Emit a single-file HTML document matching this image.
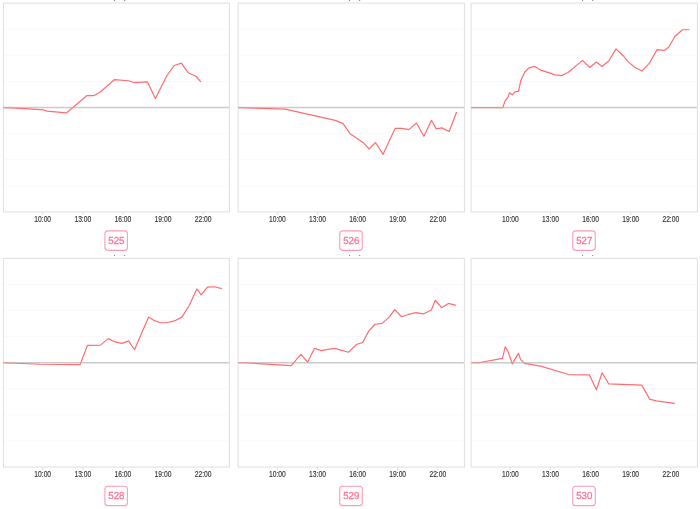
<!DOCTYPE html>
<html><head><meta charset="utf-8"><title>charts</title>
<style>
html,body{margin:0;padding:0;background:#fff;}
body{width:700px;height:509px;overflow:hidden;position:relative;}
svg{position:absolute;left:0;top:0;}
.gd{stroke:#f9f9f9;stroke-width:1;}
.zr{stroke:#cdcdcd;stroke-width:1.4;}
.zr2{stroke:#c8c8c8;stroke-width:1;stroke-opacity:0.4;}
.bd{fill:none;stroke:#dedede;stroke-width:1;}
.tk{stroke:#d6d6d6;stroke-width:1;}
.tl{font-family:"Liberation Sans",sans-serif;font-size:8.3px;fill:#333;stroke:#333;stroke-width:0.15;text-anchor:middle;}
.ln{fill:none;stroke:#ff6c72;stroke-width:1.2;stroke-linejoin:round;}
.lb{fill:#fff;stroke:#ff9cb3;stroke-width:1.1;}
.tt{font-family:"Liberation Sans",sans-serif;font-size:8.4px;fill:#555;text-anchor:middle;}
.lt{text-rendering:geometricPrecision;font-family:"Liberation Sans",sans-serif;font-size:9.8px;fill:#ff6f92;stroke:#ff6f92;stroke-width:0.25;text-anchor:middle;}
</style></head>
<body>
<svg width="700" height="509" viewBox="0 0 700 509">
<defs><clipPath id="c0"><rect x="0" y="0" width="700" height="1.2"/></clipPath><clipPath id="c1"><rect x="0" y="255" width="700" height="1"/></clipPath></defs>
<line x1="3.90" y1="29.20" x2="228.90" y2="29.20" class="gd"/>
<line x1="3.90" y1="55.30" x2="228.90" y2="55.30" class="gd"/>
<line x1="3.90" y1="81.40" x2="228.90" y2="81.40" class="gd"/>
<line x1="3.90" y1="133.60" x2="228.90" y2="133.60" class="gd"/>
<line x1="3.90" y1="159.70" x2="228.90" y2="159.70" class="gd"/>
<line x1="3.90" y1="185.80" x2="228.90" y2="185.80" class="gd"/>
<line x1="3.90" y1="107.55" x2="228.90" y2="107.55" class="zr"/>
<rect x="3.40" y="3.10" width="226.00" height="208.80" class="bd"/>
<line x1="42.70" y1="212.40" x2="42.70" y2="214.50" class="tk"/>
<text x="42.70" y="222.10" class="tl" textLength="16.8" lengthAdjust="spacingAndGlyphs">10:00</text>
<line x1="82.80" y1="212.40" x2="82.80" y2="214.50" class="tk"/>
<text x="82.80" y="222.10" class="tl" textLength="16.8" lengthAdjust="spacingAndGlyphs">13:00</text>
<line x1="122.90" y1="212.40" x2="122.90" y2="214.50" class="tk"/>
<text x="122.90" y="222.10" class="tl" textLength="16.8" lengthAdjust="spacingAndGlyphs">16:00</text>
<line x1="163.00" y1="212.40" x2="163.00" y2="214.50" class="tk"/>
<text x="163.00" y="222.10" class="tl" textLength="16.8" lengthAdjust="spacingAndGlyphs">19:00</text>
<line x1="203.10" y1="212.40" x2="203.10" y2="214.50" class="tk"/>
<text x="203.10" y="222.10" class="tl" textLength="16.8" lengthAdjust="spacingAndGlyphs">22:00</text>
<polyline points="3.40,107.55 12.00,107.95 44.00,109.95 47.00,111.15 66.40,112.95 87.00,95.55 94.10,95.55 100.30,92.05 114.50,79.55 128.40,80.75 133.80,82.55 147.30,81.85 155.40,98.55 166.80,75.75 174.30,65.45 181.40,63.15 188.40,73.05 196.00,76.25 200.80,81.95" class="ln"/>
<line x1="3.90" y1="107.55" x2="228.90" y2="107.55" class="zr2"/>
<rect x="104.90" y="230.90" width="22.5" height="19.45" rx="3" class="lb"/>
<text transform="translate(116.40,243.90) scale(1,1.04)" class="lt" textLength="16.2" lengthAdjust="spacingAndGlyphs">525</text>
<text x="119.70" y="-1.50" class="tt" textLength="14.3" lengthAdjust="spacing" clip-path="url(#c0)">(%)</text>
<line x1="238.60" y1="29.20" x2="463.90" y2="29.20" class="gd"/>
<line x1="238.60" y1="55.30" x2="463.90" y2="55.30" class="gd"/>
<line x1="238.60" y1="81.40" x2="463.90" y2="81.40" class="gd"/>
<line x1="238.60" y1="133.60" x2="463.90" y2="133.60" class="gd"/>
<line x1="238.60" y1="159.70" x2="463.90" y2="159.70" class="gd"/>
<line x1="238.60" y1="185.80" x2="463.90" y2="185.80" class="gd"/>
<line x1="238.60" y1="107.55" x2="463.90" y2="107.55" class="zr"/>
<rect x="238.10" y="3.10" width="226.30" height="208.80" class="bd"/>
<line x1="277.40" y1="212.40" x2="277.40" y2="214.50" class="tk"/>
<text x="277.40" y="222.10" class="tl" textLength="16.8" lengthAdjust="spacingAndGlyphs">10:00</text>
<line x1="317.50" y1="212.40" x2="317.50" y2="214.50" class="tk"/>
<text x="317.50" y="222.10" class="tl" textLength="16.8" lengthAdjust="spacingAndGlyphs">13:00</text>
<line x1="357.60" y1="212.40" x2="357.60" y2="214.50" class="tk"/>
<text x="357.60" y="222.10" class="tl" textLength="16.8" lengthAdjust="spacingAndGlyphs">16:00</text>
<line x1="397.70" y1="212.40" x2="397.70" y2="214.50" class="tk"/>
<text x="397.70" y="222.10" class="tl" textLength="16.8" lengthAdjust="spacingAndGlyphs">19:00</text>
<line x1="437.80" y1="212.40" x2="437.80" y2="214.50" class="tk"/>
<text x="437.80" y="222.10" class="tl" textLength="16.8" lengthAdjust="spacingAndGlyphs">22:00</text>
<polyline points="238.30,107.55 285.10,109.05 335.30,120.35 343.00,123.65 350.10,133.65 363.30,142.65 369.00,148.95 375.50,142.55 383.10,154.35 395.20,128.35 401.70,128.35 408.90,129.65 416.50,123.05 423.90,136.25 431.50,120.25 436.20,128.85 441.80,127.85 449.20,131.55 456.60,111.95" class="ln"/>
<line x1="238.60" y1="107.55" x2="463.90" y2="107.55" class="zr2"/>
<rect x="339.75" y="230.90" width="22.5" height="19.45" rx="3" class="lb"/>
<text transform="translate(351.25,243.90) scale(1,1.04)" class="lt" textLength="16.2" lengthAdjust="spacingAndGlyphs">526</text>
<text x="354.55" y="-1.50" class="tt" textLength="14.3" lengthAdjust="spacing" clip-path="url(#c0)">(%)</text>
<line x1="471.60" y1="29.20" x2="696.90" y2="29.20" class="gd"/>
<line x1="471.60" y1="55.30" x2="696.90" y2="55.30" class="gd"/>
<line x1="471.60" y1="81.40" x2="696.90" y2="81.40" class="gd"/>
<line x1="471.60" y1="133.60" x2="696.90" y2="133.60" class="gd"/>
<line x1="471.60" y1="159.70" x2="696.90" y2="159.70" class="gd"/>
<line x1="471.60" y1="185.80" x2="696.90" y2="185.80" class="gd"/>
<line x1="471.60" y1="107.55" x2="696.90" y2="107.55" class="zr"/>
<rect x="471.10" y="3.10" width="226.30" height="208.80" class="bd"/>
<line x1="510.40" y1="212.40" x2="510.40" y2="214.50" class="tk"/>
<text x="510.40" y="222.10" class="tl" textLength="16.8" lengthAdjust="spacingAndGlyphs">10:00</text>
<line x1="550.50" y1="212.40" x2="550.50" y2="214.50" class="tk"/>
<text x="550.50" y="222.10" class="tl" textLength="16.8" lengthAdjust="spacingAndGlyphs">13:00</text>
<line x1="590.60" y1="212.40" x2="590.60" y2="214.50" class="tk"/>
<text x="590.60" y="222.10" class="tl" textLength="16.8" lengthAdjust="spacingAndGlyphs">16:00</text>
<line x1="630.70" y1="212.40" x2="630.70" y2="214.50" class="tk"/>
<text x="630.70" y="222.10" class="tl" textLength="16.8" lengthAdjust="spacingAndGlyphs">19:00</text>
<line x1="670.80" y1="212.40" x2="670.80" y2="214.50" class="tk"/>
<text x="670.80" y="222.10" class="tl" textLength="16.8" lengthAdjust="spacingAndGlyphs">22:00</text>
<polyline points="471.20,107.55 502.80,107.55 505.30,100.35 508.00,97.05 509.60,92.75 512.30,94.65 515.50,91.65 518.50,91.45 520.70,80.85 524.70,72.25 528.50,68.15 534.40,66.35 541.00,70.15 555.00,74.85 561.50,75.65 568.00,72.55 582.50,60.35 589.80,67.55 596.40,62.05 602.00,66.55 608.70,61.05 616.00,48.85 622.90,55.45 628.30,61.85 634.70,67.25 641.90,71.05 649.40,63.15 657.10,49.55 664.20,50.45 668.90,46.95 674.80,36.55 682.50,29.75 689.50,29.75" class="ln"/>
<line x1="471.60" y1="107.55" x2="696.90" y2="107.55" class="zr2"/>
<rect x="572.75" y="230.90" width="22.5" height="19.45" rx="3" class="lb"/>
<text transform="translate(584.25,243.90) scale(1,1.04)" class="lt" textLength="16.2" lengthAdjust="spacingAndGlyphs">527</text>
<text x="587.55" y="-1.50" class="tt" textLength="14.3" lengthAdjust="spacing" clip-path="url(#c0)">(%)</text>
<line x1="3.90" y1="284.47" x2="228.90" y2="284.47" class="gd"/>
<line x1="3.90" y1="310.55" x2="228.90" y2="310.55" class="gd"/>
<line x1="3.90" y1="336.62" x2="228.90" y2="336.62" class="gd"/>
<line x1="3.90" y1="388.77" x2="228.90" y2="388.77" class="gd"/>
<line x1="3.90" y1="414.85" x2="228.90" y2="414.85" class="gd"/>
<line x1="3.90" y1="440.93" x2="228.90" y2="440.93" class="gd"/>
<line x1="3.90" y1="362.75" x2="228.90" y2="362.75" class="zr"/>
<rect x="3.40" y="258.40" width="226.00" height="208.60" class="bd"/>
<line x1="42.70" y1="467.50" x2="42.70" y2="469.60" class="tk"/>
<text x="42.70" y="477.20" class="tl" textLength="16.8" lengthAdjust="spacingAndGlyphs">10:00</text>
<line x1="82.80" y1="467.50" x2="82.80" y2="469.60" class="tk"/>
<text x="82.80" y="477.20" class="tl" textLength="16.8" lengthAdjust="spacingAndGlyphs">13:00</text>
<line x1="122.90" y1="467.50" x2="122.90" y2="469.60" class="tk"/>
<text x="122.90" y="477.20" class="tl" textLength="16.8" lengthAdjust="spacingAndGlyphs">16:00</text>
<line x1="163.00" y1="467.50" x2="163.00" y2="469.60" class="tk"/>
<text x="163.00" y="477.20" class="tl" textLength="16.8" lengthAdjust="spacingAndGlyphs">19:00</text>
<line x1="203.10" y1="467.50" x2="203.10" y2="469.60" class="tk"/>
<text x="203.10" y="477.20" class="tl" textLength="16.8" lengthAdjust="spacingAndGlyphs">22:00</text>
<polyline points="3.40,362.75 40.00,364.25 80.10,364.65 87.40,345.45 100.40,345.15 108.30,338.65 115.10,341.95 122.20,343.35 128.60,340.85 134.50,349.75 148.60,317.05 154.50,320.65 160.40,322.75 166.30,322.75 174.50,320.95 182.10,316.85 189.20,305.45 196.80,288.95 201.20,294.85 207.40,287.15 214.50,286.75 221.90,288.65" class="ln"/>
<line x1="3.90" y1="362.75" x2="228.90" y2="362.75" class="zr2"/>
<rect x="104.90" y="486.20" width="22.5" height="19.45" rx="3" class="lb"/>
<text transform="translate(116.40,499.20) scale(1,1.04)" class="lt" textLength="16.2" lengthAdjust="spacingAndGlyphs">528</text>
<text x="119.70" y="253.80" class="tt" textLength="14.3" lengthAdjust="spacing" clip-path="url(#c1)">(%)</text>
<line x1="238.60" y1="284.47" x2="463.90" y2="284.47" class="gd"/>
<line x1="238.60" y1="310.55" x2="463.90" y2="310.55" class="gd"/>
<line x1="238.60" y1="336.62" x2="463.90" y2="336.62" class="gd"/>
<line x1="238.60" y1="388.77" x2="463.90" y2="388.77" class="gd"/>
<line x1="238.60" y1="414.85" x2="463.90" y2="414.85" class="gd"/>
<line x1="238.60" y1="440.93" x2="463.90" y2="440.93" class="gd"/>
<line x1="238.60" y1="362.75" x2="463.90" y2="362.75" class="zr"/>
<rect x="238.10" y="258.40" width="226.30" height="208.60" class="bd"/>
<line x1="277.40" y1="467.50" x2="277.40" y2="469.60" class="tk"/>
<text x="277.40" y="477.20" class="tl" textLength="16.8" lengthAdjust="spacingAndGlyphs">10:00</text>
<line x1="317.50" y1="467.50" x2="317.50" y2="469.60" class="tk"/>
<text x="317.50" y="477.20" class="tl" textLength="16.8" lengthAdjust="spacingAndGlyphs">13:00</text>
<line x1="357.60" y1="467.50" x2="357.60" y2="469.60" class="tk"/>
<text x="357.60" y="477.20" class="tl" textLength="16.8" lengthAdjust="spacingAndGlyphs">16:00</text>
<line x1="397.70" y1="467.50" x2="397.70" y2="469.60" class="tk"/>
<text x="397.70" y="477.20" class="tl" textLength="16.8" lengthAdjust="spacingAndGlyphs">19:00</text>
<line x1="437.80" y1="467.50" x2="437.80" y2="469.60" class="tk"/>
<text x="437.80" y="477.20" class="tl" textLength="16.8" lengthAdjust="spacingAndGlyphs">22:00</text>
<polyline points="238.30,362.75 245.00,362.75 291.20,365.55 300.90,354.45 307.60,362.15 314.50,348.35 321.40,350.65 327.70,349.35 334.60,348.35 348.60,352.25 356.20,344.55 362.70,342.45 368.60,331.35 375.10,324.25 382.20,323.35 389.40,316.85 394.70,309.55 401.60,316.75 408.40,314.45 415.90,312.55 423.30,313.95 431.30,309.95 435.30,300.25 441.60,307.65 448.40,303.45 455.90,305.35" class="ln"/>
<line x1="238.60" y1="362.75" x2="463.90" y2="362.75" class="zr2"/>
<rect x="339.75" y="486.20" width="22.5" height="19.45" rx="3" class="lb"/>
<text transform="translate(351.25,499.20) scale(1,1.04)" class="lt" textLength="16.2" lengthAdjust="spacingAndGlyphs">529</text>
<text x="354.55" y="253.80" class="tt" textLength="14.3" lengthAdjust="spacing" clip-path="url(#c1)">(%)</text>
<line x1="471.60" y1="284.47" x2="696.90" y2="284.47" class="gd"/>
<line x1="471.60" y1="310.55" x2="696.90" y2="310.55" class="gd"/>
<line x1="471.60" y1="336.62" x2="696.90" y2="336.62" class="gd"/>
<line x1="471.60" y1="388.77" x2="696.90" y2="388.77" class="gd"/>
<line x1="471.60" y1="414.85" x2="696.90" y2="414.85" class="gd"/>
<line x1="471.60" y1="440.93" x2="696.90" y2="440.93" class="gd"/>
<line x1="471.60" y1="362.75" x2="696.90" y2="362.75" class="zr"/>
<rect x="471.10" y="258.40" width="226.30" height="208.60" class="bd"/>
<line x1="510.40" y1="467.50" x2="510.40" y2="469.60" class="tk"/>
<text x="510.40" y="477.20" class="tl" textLength="16.8" lengthAdjust="spacingAndGlyphs">10:00</text>
<line x1="550.50" y1="467.50" x2="550.50" y2="469.60" class="tk"/>
<text x="550.50" y="477.20" class="tl" textLength="16.8" lengthAdjust="spacingAndGlyphs">13:00</text>
<line x1="590.60" y1="467.50" x2="590.60" y2="469.60" class="tk"/>
<text x="590.60" y="477.20" class="tl" textLength="16.8" lengthAdjust="spacingAndGlyphs">16:00</text>
<line x1="630.70" y1="467.50" x2="630.70" y2="469.60" class="tk"/>
<text x="630.70" y="477.20" class="tl" textLength="16.8" lengthAdjust="spacingAndGlyphs">19:00</text>
<line x1="670.80" y1="467.50" x2="670.80" y2="469.60" class="tk"/>
<text x="670.80" y="477.20" class="tl" textLength="16.8" lengthAdjust="spacingAndGlyphs">22:00</text>
<polyline points="471.20,362.75 478.50,362.75 502.50,358.35 505.20,346.85 508.00,351.35 512.30,363.85 518.50,353.15 520.50,359.35 524.60,363.45 540.60,366.15 568.60,374.55 589.40,374.95 596.40,389.75 602.10,372.75 608.80,383.95 641.80,385.15 649.60,399.05 656.20,400.85 674.80,403.45" class="ln"/>
<line x1="471.60" y1="362.75" x2="696.90" y2="362.75" class="zr2"/>
<rect x="572.75" y="486.20" width="22.5" height="19.45" rx="3" class="lb"/>
<text transform="translate(584.25,499.20) scale(1,1.04)" class="lt" textLength="16.2" lengthAdjust="spacingAndGlyphs">530</text>
<text x="587.55" y="253.80" class="tt" textLength="14.3" lengthAdjust="spacing" clip-path="url(#c1)">(%)</text>
</svg>
</body></html>
